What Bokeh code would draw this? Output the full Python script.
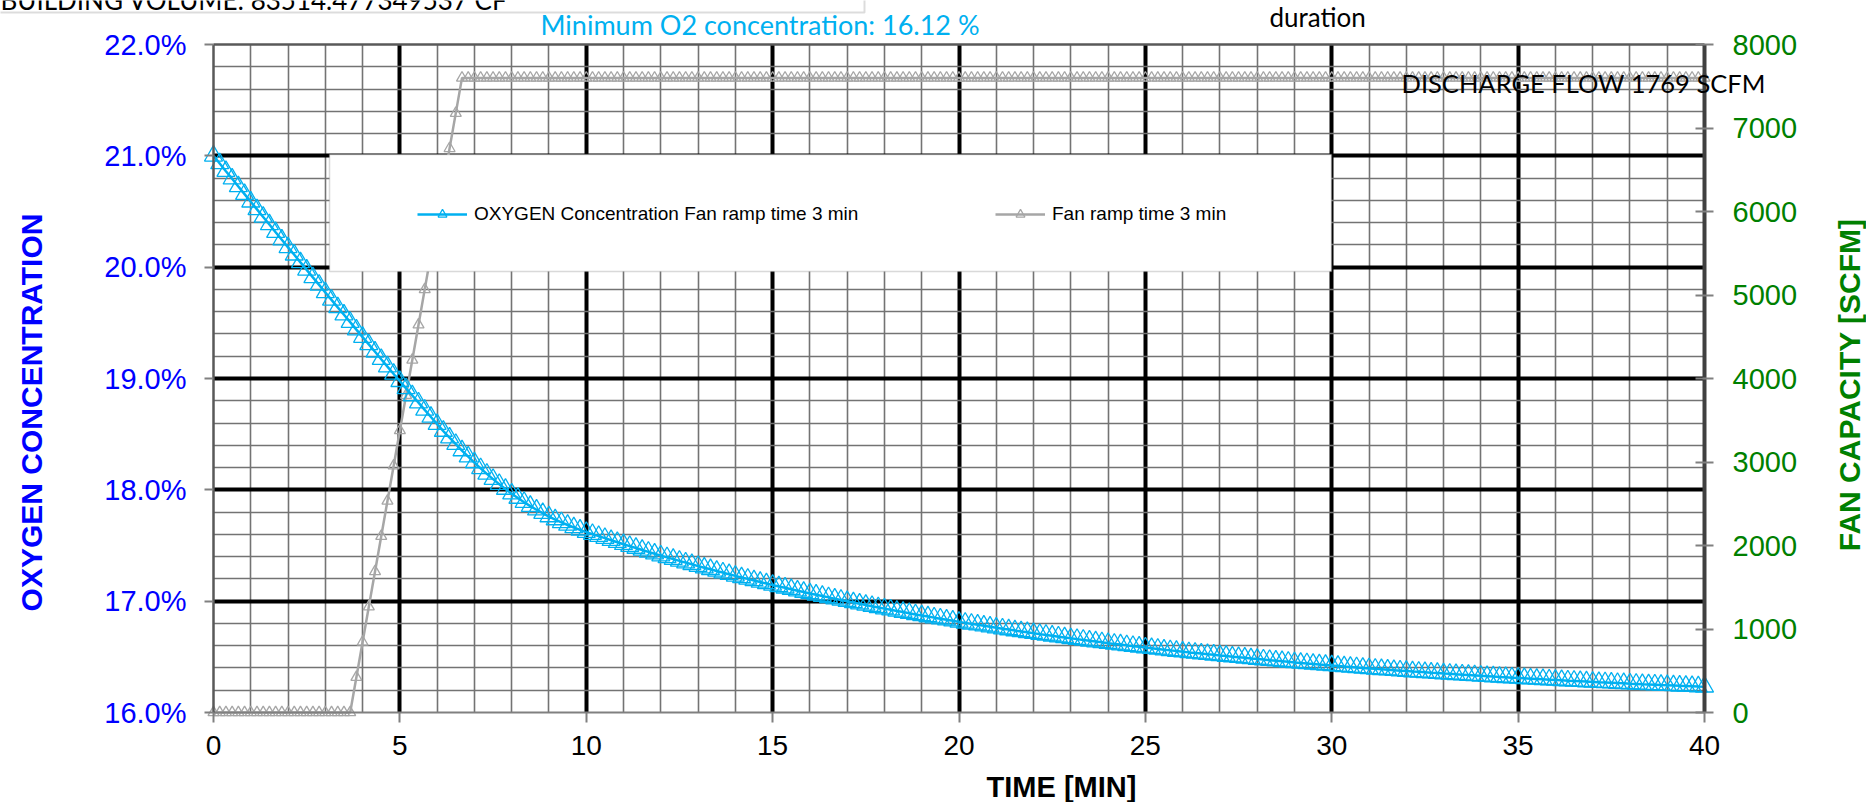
import math
from bokeh.plotting import figure
from bokeh.models import (Range1d, LinearAxis, FixedTicker, PrintfTickFormatter, Grid,
                          Label, BoxAnnotation, Legend, LegendItem, ColumnDataSource)
from bokeh.embed import file_html
from bokeh.resources import INLINE

# ---------------- data ----------------
TIME_SEC = list(range(0, 2401, 10))          # one sample every 10 s, 0..40 min
TIME_MIN = [s / 60 for s in TIME_SEC]

O2_PCT = [
    21.000, 20.931, 20.862, 20.794, 20.725, 20.656,
    20.587, 20.519, 20.451, 20.383, 20.314, 20.246,
    20.178, 20.111, 20.043, 19.976, 19.908, 19.841,
    19.773, 19.706, 19.639, 19.573, 19.506, 19.439,
    19.372, 19.306, 19.240, 19.173, 19.107, 19.041,
    18.975, 18.911, 18.847, 18.783, 18.718, 18.654,
    18.590, 18.528, 18.468, 18.410, 18.353, 18.298,
    18.245, 18.193, 18.143, 18.096, 18.051, 18.007,
    17.965, 17.926, 17.889, 17.854, 17.821, 17.790,
    17.760, 17.733, 17.708, 17.684, 17.662, 17.641,
    17.620, 17.602, 17.584, 17.566, 17.547, 17.529,
    17.511, 17.494, 17.477, 17.460, 17.443, 17.426,
    17.409, 17.393, 17.378, 17.362, 17.346, 17.331,
    17.315, 17.300, 17.286, 17.271, 17.256, 17.242,
    17.227, 17.213, 17.200, 17.186, 17.172, 17.159,
    17.145, 17.132, 17.120, 17.107, 17.094, 17.082,
    17.069, 17.057, 17.046, 17.034, 17.022, 17.011,
    16.999, 16.988, 16.977, 16.966, 16.955, 16.944,
    16.933, 16.923, 16.912, 16.902, 16.892, 16.881,
    16.871, 16.862, 16.852, 16.843, 16.833, 16.824,
    16.814, 16.805, 16.796, 16.788, 16.779, 16.770,
    16.761, 16.753, 16.745, 16.736, 16.728, 16.720,
    16.712, 16.704, 16.697, 16.689, 16.681, 16.674,
    16.666, 16.659, 16.652, 16.644, 16.637, 16.630,
    16.623, 16.616, 16.610, 16.603, 16.596, 16.590,
    16.583, 16.577, 16.571, 16.564, 16.558, 16.552,
    16.546, 16.540, 16.535, 16.529, 16.523, 16.518,
    16.512, 16.507, 16.501, 16.496, 16.491, 16.485,
    16.480, 16.475, 16.470, 16.465, 16.460, 16.455,
    16.450, 16.445, 16.441, 16.436, 16.431, 16.427,
    16.422, 16.418, 16.413, 16.409, 16.405, 16.400,
    16.396, 16.392, 16.388, 16.384, 16.380, 16.376,
    16.372, 16.368, 16.365, 16.361, 16.357, 16.354,
    16.350, 16.347, 16.343, 16.340, 16.336, 16.333,
    16.329, 16.326, 16.323, 16.319, 16.316, 16.313,
    16.310, 16.307, 16.304, 16.301, 16.298, 16.295,
    16.292, 16.289, 16.286, 16.284, 16.281, 16.278,
    16.275, 16.272, 16.270, 16.267, 16.264, 16.262,
    16.259, 16.257, 16.254, 16.252, 16.250, 16.247,
    16.245, 16.243, 16.240, 16.238, 16.236, 16.233,
    16.231,
]

FAN_OFF = [0] * 23                                   # 0 .. 3.67 min, fan off
FAN_RAMP = [422, 844, 1267, 1689, 2111, 2533, 2956, 3378, 3800,
            4222, 4644, 5067, 5489, 5911, 6333, 6756, 7178, 7600]
FAN_FULL = [7600] * 200                              # 6.83 .. 40 min, full capacity
FAN_SCFM = FAN_OFF + FAN_RAMP + FAN_FULL

X_TICKS = [0, 5, 10, 15, 20, 25, 30, 35, 40]
Y_TICKS = [16, 17, 18, 19, 20, 21, 22]
FAN_TICKS = [0, 1000, 2000, 3000, 4000, 5000, 6000, 7000, 8000]
X_MIN, X_MAX = 0, 40
Y_MIN, Y_MAX = 16, 22
FAN_MIN, FAN_MAX = 0, 8000

O2_LABEL = "OXYGEN Concentration Fan ramp time 3 min"
FAN_LABEL = "Fan ramp time 3 min"
BUILDING_TEXT = "BUILDING VOLUME: 83514.477349537  CF"
MIN_O2_TEXT = "Minimum O2 concentration: 16.12  %"
DURATION_TEXT = "duration"
DISCHARGE_TEXT = "DISCHARGE FLOW 1769  SCFM"
X_TITLE = "TIME [MIN]"
Y_TITLE = "OXYGEN CONCENTRATION"
Y2_TITLE = "FAN  CAPACITY  [SCFM]"

# ---------------- layout (pixels) ----------------
W, H = 1866, 802                       # canvas == frame
PLOT_L, PLOT_R, PLOT_T, PLOT_B = 213, 1704, 44, 712
BLUE = "#00B0F0"
GRAY = "#A6A6A6"
AX_FONT = "Liberation Sans"
NOTE_FONT = "Lato"

ppx = (PLOT_R - PLOT_L) / (X_MAX - X_MIN)
ppy = (PLOT_B - PLOT_T) / (Y_MAX - Y_MIN)
ppf = (PLOT_B - PLOT_T) / (FAN_MAX - FAN_MIN)
x_range = Range1d(X_MIN - PLOT_L / ppx, X_MAX + (W - PLOT_R) / ppx)
y_range = Range1d(Y_MIN - (H - PLOT_B) / ppy, Y_MAX + PLOT_T / ppy)
fan_range = Range1d(FAN_MIN - (H - PLOT_B) / ppf, FAN_MAX + PLOT_T / ppf)

p = figure(frame_width=W, frame_height=H, x_range=x_range, y_range=y_range,
           title=None, output_backend="svg", toolbar_location=None,
           min_border=0, background_fill_color="white", border_fill_color="white")
p.extra_y_ranges = {"fan": fan_range}
p.outline_line_color = None

# ---------------- grids ----------------
p.xgrid.ticker = FixedTicker(ticks=[5, 10, 15, 20, 25, 30, 35],
                             minor_ticks=[i for i in range(1, 40) if i % 5])
p.ygrid.ticker = FixedTicker(ticks=[17, 18, 19, 20, 21],
                             minor_ticks=[16 + 0.2 * i for i in range(1, 30) if i % 5])
has_cross = "cross_bounds" in Grid.properties()
for g, cb in ((p.xgrid, (Y_MIN, Y_MAX)), (p.ygrid, (X_MIN, X_MAX))):
    g.grid_line_color = "black"
    g.grid_line_width = 4
    g.minor_grid_line_color = "#737373"
    g.minor_grid_line_width = 1.6
    if has_cross:
        g.cross_bounds = cb

# white masks (screen px, y up) so that the grid stays inside the plot area
def box(l, r, b, t, **kw):
    return BoxAnnotation(left=l, right=r, bottom=b, top=t,
                         left_units="screen", right_units="screen",
                         bottom_units="screen", top_units="screen", **kw)

for l, r, b, t in ((-20, W + 20, H - PLOT_T, H + 20),      # above plot area
                   (-20, W + 20, -20, H - PLOT_B),         # below
                   (-20, PLOT_L, -20, H + 20),             # left
                   (PLOT_R, W + 20, -20, H + 20)):         # right
    p.add_layout(box(l, r, b, t, fill_color="white", fill_alpha=1.0,
                     line_color=None, level="underlay"))

# ---------------- axes ----------------
xa = p.xaxis[0]
xa.fixed_location = Y_MIN
xa.bounds = (X_MIN, X_MAX)
xa.ticker = FixedTicker(ticks=X_TICKS)
xa.major_label_text_font = AX_FONT
xa.major_label_text_font_size = "28px"
xa.major_label_text_color = "black"
xa.major_tick_out = 10
xa.major_tick_in = 0
xa.major_label_standoff = 13
xa.minor_tick_line_color = None
xa.major_tick_line_color = "#808080"
xa.major_tick_line_width = 2
xa.axis_line_color = "#808080"
xa.axis_line_width = 2

ya = p.yaxis[0]
ya.fixed_location = X_MIN
ya.bounds = (Y_MIN, Y_MAX)
ya.ticker = FixedTicker(ticks=Y_TICKS)
ya.formatter = PrintfTickFormatter(format="%.1f%%")
ya.major_label_text_font = AX_FONT
ya.major_label_text_font_size = "29px"
ya.major_label_text_color = "#0000FF"
ya.major_tick_out = 9
ya.major_tick_in = 0
ya.major_label_standoff = 18
ya.minor_tick_line_color = None
ya.major_tick_line_color = "#808080"
ya.major_tick_line_width = 2
ya.axis_line_color = "#595959"
ya.axis_line_width = 2.5

ra = LinearAxis(y_range_name="fan", fixed_location=X_MAX, bounds=(FAN_MIN, FAN_MAX),
                ticker=FixedTicker(ticks=FAN_TICKS))
ra.major_label_text_font = AX_FONT
ra.major_label_text_font_size = "29px"
ra.major_label_text_color = "#008000"
ra.major_tick_out = 9
ra.major_tick_in = 9
ra.major_label_standoff = 19
ra.minor_tick_line_color = None
ra.major_tick_line_color = "#808080"
ra.major_tick_line_width = 2
ra.axis_line_color = "#404040"
ra.axis_line_width = 4
p.add_layout(ra, "right")

# top border of the plot area: a bare axis line at 22 %
ta = LinearAxis(fixed_location=Y_MAX, bounds=(X_MIN, X_MAX), ticker=FixedTicker(ticks=[]))
ta.axis_line_color = "#595959"
ta.axis_line_width = 2.5
ta.major_tick_line_color = None
ta.minor_tick_line_color = None
ta.major_label_text_alpha = 0
p.add_layout(ta, "above")

# ---------------- series ----------------
src = ColumnDataSource(dict(t=TIME_MIN, o2=O2_PCT, fan=FAN_SCFM))
fan_line = p.line("t", "fan", source=src, y_range_name="fan",
                  line_color=GRAY, line_width=2.5)
fan_pts = p.scatter("t", "fan", source=src, y_range_name="fan", marker="triangle",
                    size=11, line_color=GRAY, fill_color=None, line_width=1.3)
o2_line = p.line("t", "o2", source=src, line_color=BLUE, line_width=2.5)
o2_pts = p.scatter("t", "o2", source=src, marker="triangle",
                   size=18, line_color=BLUE, fill_color=None, line_width=1.3)

# ---------------- legend ----------------
p.add_layout(box(329, 1331, H - 271, H - 154, fill_color="white", fill_alpha=1.0,
                 line_color="#808080", line_width=1.5))

def make_legend(label, renderers, sx):
    return Legend(items=[LegendItem(label=label, renderers=renderers)],
                  location=(sx, H - 214 - 11), orientation="horizontal",
                  padding=0, margin=0, spacing=0,
                  glyph_width=50, glyph_height=22, label_height=22, label_standoff=7,
                  label_text_font=AX_FONT, label_text_font_size="19px",
                  label_text_color="black",
                  background_fill_alpha=0, border_line_alpha=0)

p.add_layout(make_legend(O2_LABEL, [o2_line, o2_pts], 417))
p.add_layout(make_legend(FAN_LABEL, [fan_line, fan_pts], 995))

# ---------------- texts ----------------
def note(text, sx, sy, **kw):
    opts = dict(text_font=NOTE_FONT, text_font_size="27px", text_color="black",
                text_align="left", text_baseline="middle")
    opts.update(kw)
    p.add_layout(Label(x=sx, y=H - sy, x_units="screen", y_units="screen", text=text, **opts))

# building-volume text box (mostly above the page)
p.add_layout(box(-50, 864, H - 12, H + 60, fill_alpha=0,
                 line_color="#8c8c8c", line_width=2))
note(BUILDING_TEXT, 0, -1, text_font_size="26px")
note(MIN_O2_TEXT, 540, 23.5, text_color=BLUE)
note(DURATION_TEXT, 1269, 16, text_font_size="26px")
note(DISCHARGE_TEXT, 1401, 82, text_font_size="25.5px")

# axis titles
note(Y_TITLE, 31, 412, text_font=AX_FONT, text_font_size="30px",
     text_font_style="bold", text_color="#0000FF", text_align="center",
     angle=math.pi / 2)
note(Y2_TITLE, 1849, 376, text_font=AX_FONT, text_font_size="30px",
     text_font_style="bold", text_color="#008000", text_align="center",
     angle=math.pi / 2)
note(X_TITLE, 1061, 786, text_font=AX_FONT, text_font_size="29px",
     text_font_style="bold", text_color="black", text_align="center")

open("out.html", "w").write(file_html(p, INLINE))
